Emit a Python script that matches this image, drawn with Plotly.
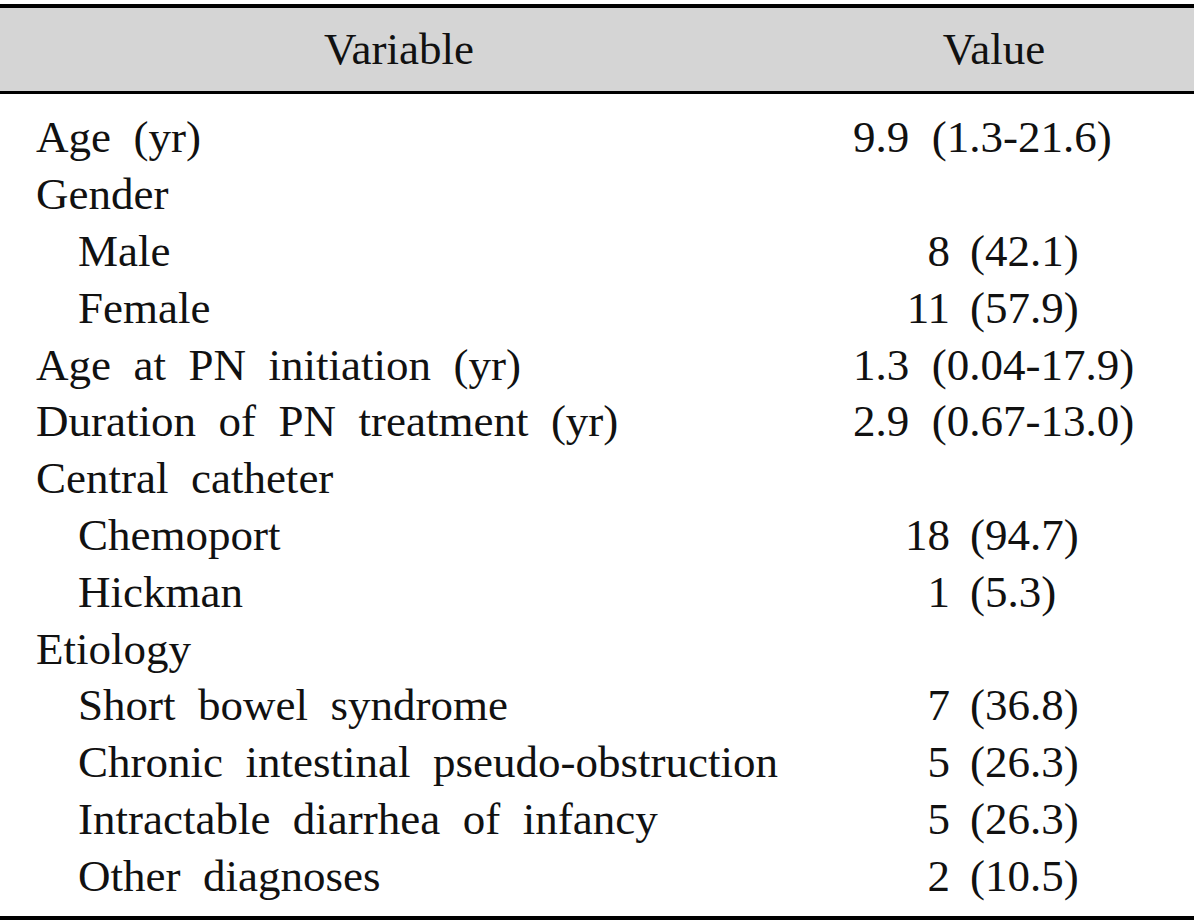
import plotly.graph_objects as go

# ---- table content ----
header_variable = "Variable"
header_value = "Value"
labels = [
    "Age (yr)", "Gender", "Male", "Female",
    "Age at PN initiation (yr)", "Duration of PN treatment (yr)",
    "Central catheter", "Chemoport", "Hickman",
    "Etiology", "Short bowel syndrome", "Chronic intestinal pseudo-obstruction",
    "Intractable diarrhea of infancy", "Other diagnoses",
]
indent = [0, 0, 1, 1, 0, 0, 0, 1, 1, 0, 1, 1, 1, 1]
values = [
    "9.9 (1.3-21.6)", "", "8 (42.1)", "11 (57.9)",
    "1.3 (0.04-17.9)", "2.9 (0.67-13.0)",
    "", "18 (94.7)", "1 (5.3)",
    "", "7 (36.8)", "5 (26.3)", "5 (26.3)", "2 (10.5)",
]

# ---- layout constants (pixels) ----
W, H = 1200, 922
FONT = "Liberation Serif"
FS = 45
first_base = 156
row_step = 56.8
mid_off = 0.33 * FS  # baseline -> middle of text
x_left = [36, 78]
x_range_left = 853
x_count_right = 950
x_pct_left = 970

def sp(s):
    return s.replace(" ", "\u00a0\u00a0")

rows = list(range(len(labels)))
row_y = [first_base + row_step * i - mid_off for i in rows]

fig = go.Figure()

# labels
fig.add_trace(go.Scatter(
    x=[x_left[k] for k in indent], y=row_y, mode="text",
    text=[sp(t) for t in labels], textposition="middle right",
    textfont=dict(family=FONT, size=FS, color="#111111"),
    hoverinfo="skip", showlegend=False))

# values: ranges left aligned, counts split around "("
rx, ry, rt = [], [], []
cx, cy, ct = [], [], []
px, py, pt = [], [], []
for i, v in enumerate(values):
    if not v:
        continue
    if "-" in v:
        rx.append(x_range_left); ry.append(row_y[i]); rt.append(sp(v))
    else:
        n, p = v.split(" ", 1)
        cx.append(x_count_right); cy.append(row_y[i]); ct.append(n)
        px.append(x_pct_left); py.append(row_y[i]); pt.append(p)

for xs, ys, ts, pos in [(rx, ry, rt, "middle right"),
                        (cx, cy, ct, "middle left"),
                        (px, py, pt, "middle right")]:
    fig.add_trace(go.Scatter(
        x=xs, y=ys, mode="text", text=ts, textposition=pos,
        textfont=dict(family=FONT, size=FS, color="#111111"),
        hoverinfo="skip", showlegend=False))

# header text
fig.add_trace(go.Scatter(
    x=[399, 994], y=[68 - mid_off] * 2, mode="text",
    text=[header_variable, header_value], textposition="middle center",
    textfont=dict(family=FONT, size=FS, color="#111111"),
    hoverinfo="skip", showlegend=False))

shapes = [
    dict(type="rect", x0=0, x1=1194, y0=8, y1=92, fillcolor="#d5d5d5",
         line=dict(width=0), layer="below"),
    dict(type="line", x0=0, x1=1194, y0=6, y1=6, line=dict(color="#000", width=4)),
    dict(type="line", x0=0, x1=1194, y0=92.5, y1=92.5, line=dict(color="#000", width=3)),
    dict(type="line", x0=0, x1=1194, y0=918, y1=918, line=dict(color="#000", width=4)),
]

fig.update_layout(
    width=W, height=H, margin=dict(l=0, r=0, t=0, b=0),
    paper_bgcolor="white", plot_bgcolor="white",
    xaxis=dict(range=[0, W], visible=False, fixedrange=True),
    yaxis=dict(range=[H, 0], visible=False, fixedrange=True),
    shapes=shapes,
)

fig.write_html(
    "out.html",
    config={"displayModeBar": False, "staticPlot": True},
    post_script="document.body.style.margin='0';document.body.style.overflow='hidden';",
)
